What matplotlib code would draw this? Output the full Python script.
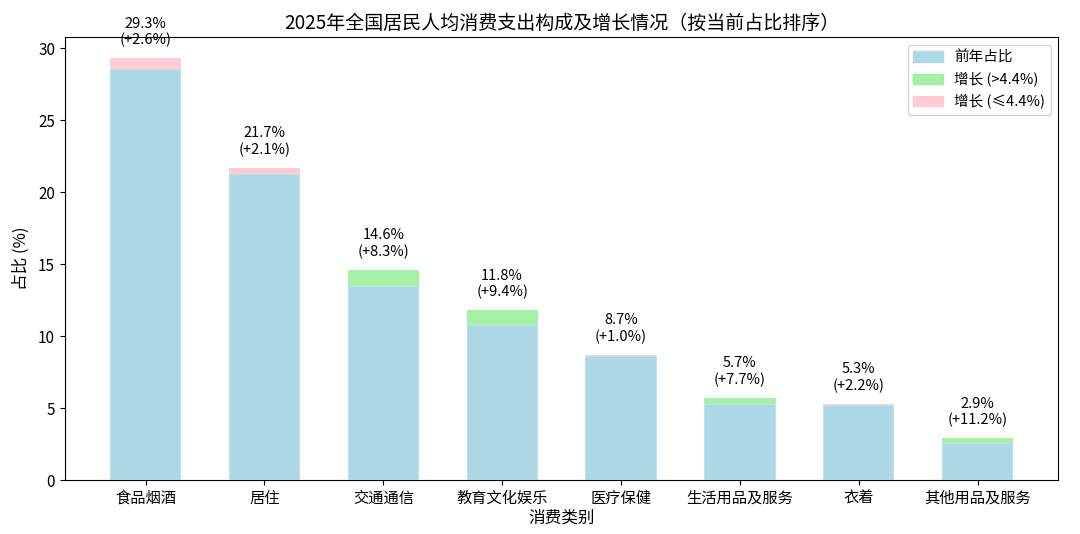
import matplotlib
matplotlib.use("Agg")
import matplotlib.pyplot as plt
from matplotlib.patches import Patch

plt.rcParams['font.family'] = ['Noto Sans CJK SC', 'DejaVu Sans']
plt.rcParams['axes.unicode_minus'] = False

# data
categories = ["食品烟酒", "居住", "交通通信", "教育文化娱乐", "医疗保健", "生活用品及服务", "衣着", "其他用品及服务"]
current_share = [29.3, 21.7, 14.6, 11.8, 8.7, 5.7, 5.3, 2.9]
prev_share = [28.56, 21.25, 13.48, 10.79, 8.61, 5.29, 5.19, 2.61]
growth = [2.6, 2.1, 8.3, 9.4, 1.0, 7.7, 2.2, 11.2]
threshold = 4.4

fig, ax = plt.subplots(figsize=(10.8, 5.34), dpi=100)
x = range(len(categories))

ax.bar(x, prev_share, width=0.6, color="lightblue", edgecolor="white", linewidth=0.3)
top_colors = ["lightgreen" if g > threshold else "pink" for g in growth]
ax.bar(x, [c - p for c, p in zip(current_share, prev_share)], width=0.6,
       bottom=prev_share, color=top_colors, alpha=0.8, linewidth=0)

for i, (c, g) in enumerate(zip(current_share, growth)):
    ax.text(i, c + 0.75, f"{c:.1f}%\n(+{g:.1f}%)", ha="center", va="bottom", fontsize=10.5)

ax.set_xticks(list(x))
ax.set_xticklabels(categories, fontsize=11)
ax.tick_params(axis="y", labelsize=11)
ax.set_ylim(0, max(current_share) * 1.05)
ax.set_xlabel("消费类别", fontsize=12, labelpad=2)
ax.set_ylabel("占比 (%)", fontsize=12, labelpad=6)
ax.set_title("2025年全国居民人均消费支出构成及增长情况（按当前占比排序）", fontsize=13.7)

handles = [Patch(color="lightblue", label="前年占比"),
           Patch(color="lightgreen", alpha=0.8, label=f"增长 (>{threshold}%)"),
           Patch(color="pink", alpha=0.8, label=f"增长 (≤{threshold}%)")]
ax.legend(handles=handles, loc="upper right", fontsize=10.5)

fig.subplots_adjust(left=0.060, right=0.980, top=0.930, bottom=0.101)
fig.savefig("out.png", dpi=100)
